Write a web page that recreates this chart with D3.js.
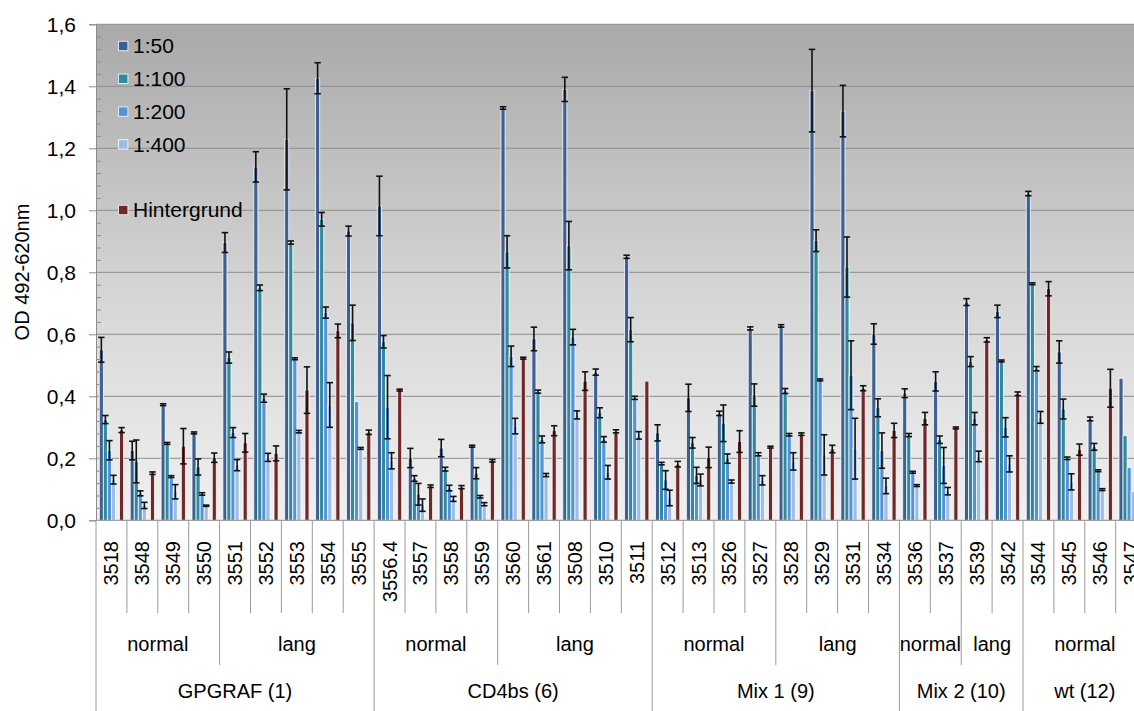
<!DOCTYPE html>
<html>
<head>
<meta charset="utf-8">
<script src="https://cdn.jsdelivr.net/npm/d3@7"></script>
<style>
  html, body { margin: 0; padding: 0; background: #fff; overflow: hidden; }
  svg { display: block; font-family: "Liberation Sans", Arial, sans-serif; }
</style>
</head>
<body>
<svg id="chart" width="1134" height="711"></svg>
<script>
// Sample IDs along the category axis
const categories = ["3518","3548","3549","3550","3551","3552","3553","3554","3555",
  "3556.4","3557","3558","3559","3560","3561","3508","3510","3511",
  "3512","3513","3526","3527","3528","3529","3531","3534",
  "3536","3537","3539","3542",
  "3544","3545","3546","3547"];

// Second and third level of the category axis
const subLabels = ["normal","lang","normal","lang","normal","lang","normal","lang","normal"];
const subCounts = [4,5,4,5,4,4,2,2,4];
const groupLabels = ["GPGRAF (1)","CD4bs (6)","Mix 1 (9)","Mix 2 (10)","wt (12)"];
const groupCounts = [9,9,8,4,4];

// Mean OD per dilution
const v50  = [0.55,0.225,0.373,0.282,0.896,1.14,1.229,1.426,0.933,1.014,0.201,0.233,0.239,1.33,0.585,1.39,0.478,0.85,0.282,0.395,0.345,0.619,0.627,1.386,1.32,0.601,0.41,0.448,0.704,0.674,1.054,0.543,0.327,0.458];
const v100 = [0.325,0.19,0.248,0.172,0.525,0.75,0.896,0.971,0.637,0.576,0.135,0.165,0.152,0.866,0.415,0.886,0.347,0.615,0.183,0.25,0.313,0.404,0.417,0.902,0.817,0.363,0.275,0.26,0.512,0.514,0.763,0.359,0.237,0.273];
const v200 = [0.226,0.087,0.141,0.085,0.283,0.394,0.521,0.67,0.383,0.365,0.084,0.104,0.076,0.529,0.261,0.591,0.261,0.395,0.13,0.145,0.199,0.213,0.276,0.453,0.468,0.225,0.155,0.177,0.328,0.3,0.489,0.2,0.16,0.17];
const v400 = [0.131,0.048,0.092,0.047,0.178,0.203,0.286,0.372,0.232,0.192,0.049,0.069,0.052,0.304,0.146,0.34,0.155,0.274,0.072,0.13,0.125,0.129,0.19,0.211,0.231,0.111,0.112,0.094,0.206,0.182,0.332,0.124,0.099,0.093];
const vBg  = [0.291,0.152,0.239,0.202,0.25,0.216,0.42,0.611,0.284,0.42,0.11,0.107,0.192,0.523,0.289,0.449,0.287,0.449,0.181,0.203,0.254,0.236,0.278,0.23,0.426,0.29,0.328,0.298,0.582,0.408,0.747,0.228,0.426,null];

// Standard deviations (error bars)
const e50  = [0.04,0.03,0.003,0.003,0.032,0.049,0.163,0.05,0.016,0.096,0.031,0.028,0.003,0.004,0.038,0.039,0.01,0.005,0.026,0.044,0.007,0.005,0.004,0.133,0.083,0.033,0.014,0.031,0.011,0.02,0.007,0.036,0.006,0];
const e100 = [0.013,0.069,0.003,0.026,0.018,0.009,0.005,0.022,0.057,0.02,0.009,0.006,0.018,0.052,0.005,0.078,0.016,0.039,0.004,0.017,0.059,0.036,0.008,0.035,0.097,0.029,0.005,0.012,0.016,0.003,0.003,0.032,0.011,0];
const e200 = [0.031,0.008,0.003,0.004,0.016,0.013,0.003,0.018,0,0.102,0.035,0.009,0.004,0.033,0.011,0.025,0.009,0.005,0.03,0.026,0.015,0.005,0.004,0.003,0.111,0.057,0.003,0.058,0.02,0.031,0.007,0.004,0.003,0];
const e400 = [0.014,0.01,0.023,0.002,0.018,0.013,0.004,0.072,0.003,0.026,0.02,0.008,0.005,0.025,0.005,0.013,0.022,0.012,0.025,0.019,0.005,0.015,0.028,0.065,0.098,0.025,0.003,0.012,0.017,0.026,0.019,0.026,0.003,0];
const eBg  = [0.008,0.004,0.057,0.015,0.03,0.024,0.075,0.022,0.007,0.003,0.004,0.005,0.004,0.003,0.016,0.03,0.005,0,0.009,0.033,0.035,0.003,0.004,0.012,0.008,0.023,0.02,0.003,0.007,0.006,0.023,0.018,0.061,0];

// Series (the empty slot keeps the gap before the background series)
const seriesNames  = ["1:50","1:100","1:200","1:400","","Hintergrund"];
const seriesColors = ["#3d5f92","#2f8a9b","#5591db","#9ebde2",null,"#6f2727"];
const seriesValues = [v50, v100, v200, v400, null, vBg];
const seriesErrors = [e50, e100, e200, e400, null, eBg];

const yTicks = [0,0.2,0.4,0.6,0.8,1.0,1.2,1.4,1.6];

const svg = d3.select("#chart");
const fontSize = 20;
const plotTop = 24.3, plotBottom = 520.3, plotLeft = 96, step = 30.9;
const plotRight = plotLeft + step * categories.length;

const x = d3.scaleBand().domain(categories).range([plotLeft, plotRight]).padding(0);
const slot = d3.scaleBand().domain(d3.range(seriesNames.length)).range([0, x.bandwidth()])
  .paddingInner(0).paddingOuter(0.815);
const y = d3.scaleLinear().domain([0, 1.6]).range([plotBottom, plotTop]);

// Plot area background gradient
const defs = svg.append("defs");
const grad = defs.append("linearGradient").attr("id", "bg").attr("x1", 0).attr("y1", 0).attr("x2", 0).attr("y2", 1);
grad.append("stop").attr("offset", "0%").attr("stop-color", "#a9a9a9");
grad.append("stop").attr("offset", "55%").attr("stop-color", "#d6d6d6");
grad.append("stop").attr("offset", "100%").attr("stop-color", "#f0f0f0");

svg.append("rect").attr("x", plotLeft).attr("y", plotTop)
  .attr("width", plotRight - plotLeft).attr("height", plotBottom - plotTop)
  .attr("fill", "url(#bg)");

// Gridlines
svg.append("g").selectAll("line").data(yTicks.filter(d => d > 0)).join("line")
  .attr("x1", plotLeft).attr("x2", plotRight)
  .attr("y1", d => y(d)).attr("y2", d => y(d))
  .attr("stroke", "#8c8c8c").attr("stroke-width", 1);

// Bars
const barsG = svg.append("g");
seriesValues.forEach((vals, si) => {
  if (!vals) return;
  const pts = categories.map((c, i) => ({ c, v: vals[i], e: seriesErrors[si][i] })).filter(d => d.v != null);
  barsG.append("g").selectAll("rect").data(pts).join("rect")
    .attr("x", d => x(d.c) + slot(si))
    .attr("y", d => y(d.v))
    .attr("width", slot.bandwidth())
    .attr("height", d => y(0) - y(d.v))
    .attr("fill", seriesColors[si])
    .attr("stroke", "rgba(255,255,255,0.85)")
    .attr("stroke-width", 0.9);
});

// Error bars
const errG = svg.append("g").attr("stroke", "#111").attr("stroke-width", 1.6);
seriesValues.forEach((vals, si) => {
  if (!vals) return;
  const pts = categories.map((c, i) => ({ c, v: vals[i], e: seriesErrors[si][i] }))
    .filter(d => d.v != null && d.e > 0);
  const cx = d => x(d.c) + slot(si) + slot.bandwidth() / 2;
  const g = errG.append("g");
  g.selectAll("line.v").data(pts).join("line").attr("class", "v")
    .attr("x1", cx).attr("x2", cx)
    .attr("y1", d => y(d.v + d.e)).attr("y2", d => y(d.v - d.e));
  ["+", "-"].forEach(s => {
    g.selectAll("line.c" + (s === "+" ? "t" : "b")).data(pts).join("line")
      .attr("class", "c" + (s === "+" ? "t" : "b"))
      .attr("x1", d => cx(d) - 3.2).attr("x2", d => cx(d) + 3.2)
      .attr("y1", d => y(s === "+" ? d.v + d.e : d.v - d.e))
      .attr("y2", d => y(s === "+" ? d.v + d.e : d.v - d.e));
  });
});

// Y axis with major and minor ticks
const yAxis = svg.append("g").attr("transform", `translate(${plotLeft},0)`)
  .call(d3.axisLeft(y).tickValues(yTicks).tickSize(7).tickPadding(13)
    .tickFormat(d => d3.format(".1f")(d).replace(".", ",")));
yAxis.selectAll("text").attr("font-size", 21).attr("fill", "#000")
  .attr("font-family", "'Liberation Sans', Arial, sans-serif");
yAxis.selectAll("line").attr("stroke", "#8c8c8c");
yAxis.select(".domain").attr("stroke", "#8c8c8c");

const minorTicks = d3.range(0, 1.6001, 0.04).filter(v => Math.abs(v / 0.2 - Math.round(v / 0.2)) > 1e-6);
svg.append("g").attr("transform", `translate(${plotLeft},0)`)
  .call(d3.axisRight(y).tickValues(minorTicks).tickSize(5).tickFormat(""))
  .call(g => g.select(".domain").remove())
  .selectAll("line").attr("stroke", "#8c8c8c");

// X axis baseline
svg.append("line").attr("x1", plotLeft).attr("x2", plotRight)
  .attr("y1", plotBottom).attr("y2", plotBottom).attr("stroke", "#8c8c8c");

// Y axis title
svg.append("text")
  .attr("transform", `translate(29,272) rotate(-90)`)
  .attr("text-anchor", "middle").attr("font-size", fontSize).attr("fill", "#000")
  .text("OD 492-620nm");

// Multi-level category axis
const rowSample = 613, rowSub = 665, rowGroup = 711;
const sepG = svg.append("g").attr("stroke", "#9a9a9a").attr("stroke-width", 1);
// boundaries between samples
const subEdges = d3.cumsum(subCounts);
const groupEdges = d3.cumsum(groupCounts);
d3.range(0, categories.length + 1).forEach(k => {
  const xx = plotLeft + step * k;
  let bottom = rowSample;
  if (k === 0 || groupEdges.includes(k)) bottom = rowGroup;
  else if (subEdges.includes(k)) bottom = rowSub;
  sepG.append("line").attr("x1", xx).attr("x2", xx).attr("y1", plotBottom).attr("y2", bottom);
});

svg.append("g").selectAll("text").data(categories).join("text")
  .attr("transform", d => `translate(${x(d) + x.bandwidth() / 2},541) rotate(-90)`)
  .attr("text-anchor", "end").attr("dy", "0.35em")
  .attr("font-size", fontSize).attr("fill", "#000")
  .text(d => d);

let start = 0;
subLabels.forEach((lab, i) => {
  const a = plotLeft + step * start, b = plotLeft + step * (start + subCounts[i]);
  svg.append("text").attr("x", (a + b) / 2).attr("y", 644).attr("dy", "0.35em")
    .attr("text-anchor", "middle").attr("font-size", fontSize).attr("fill", "#000").text(lab);
  start += subCounts[i];
});
start = 0;
groupLabels.forEach((lab, i) => {
  const a = plotLeft + step * start, b = plotLeft + step * (start + groupCounts[i]);
  svg.append("text").attr("x", (a + b) / 2).attr("y", 691).attr("dy", "0.35em")
    .attr("text-anchor", "middle").attr("font-size", fontSize).attr("fill", "#000").text(lab);
  start += groupCounts[i];
});

// Legend (blank row keeps the empty series slot)
const legend = svg.append("g");
seriesNames.forEach((name, i) => {
  const cy = 46 + i * 32.8;
  if (!seriesColors[i]) return;
  legend.append("rect").attr("x", 118.5).attr("y", cy - 4.7).attr("width", 9.4).attr("height", 9.4)
    .attr("fill", seriesColors[i]).attr("stroke", "rgba(255,255,255,0.85)").attr("stroke-width", 0.9);
  legend.append("text").attr("x", 133).attr("y", cy).attr("dy", "0.35em")
    .attr("font-size", 21).attr("fill", "#000").text(name);
});
</script>
</body>
</html>
